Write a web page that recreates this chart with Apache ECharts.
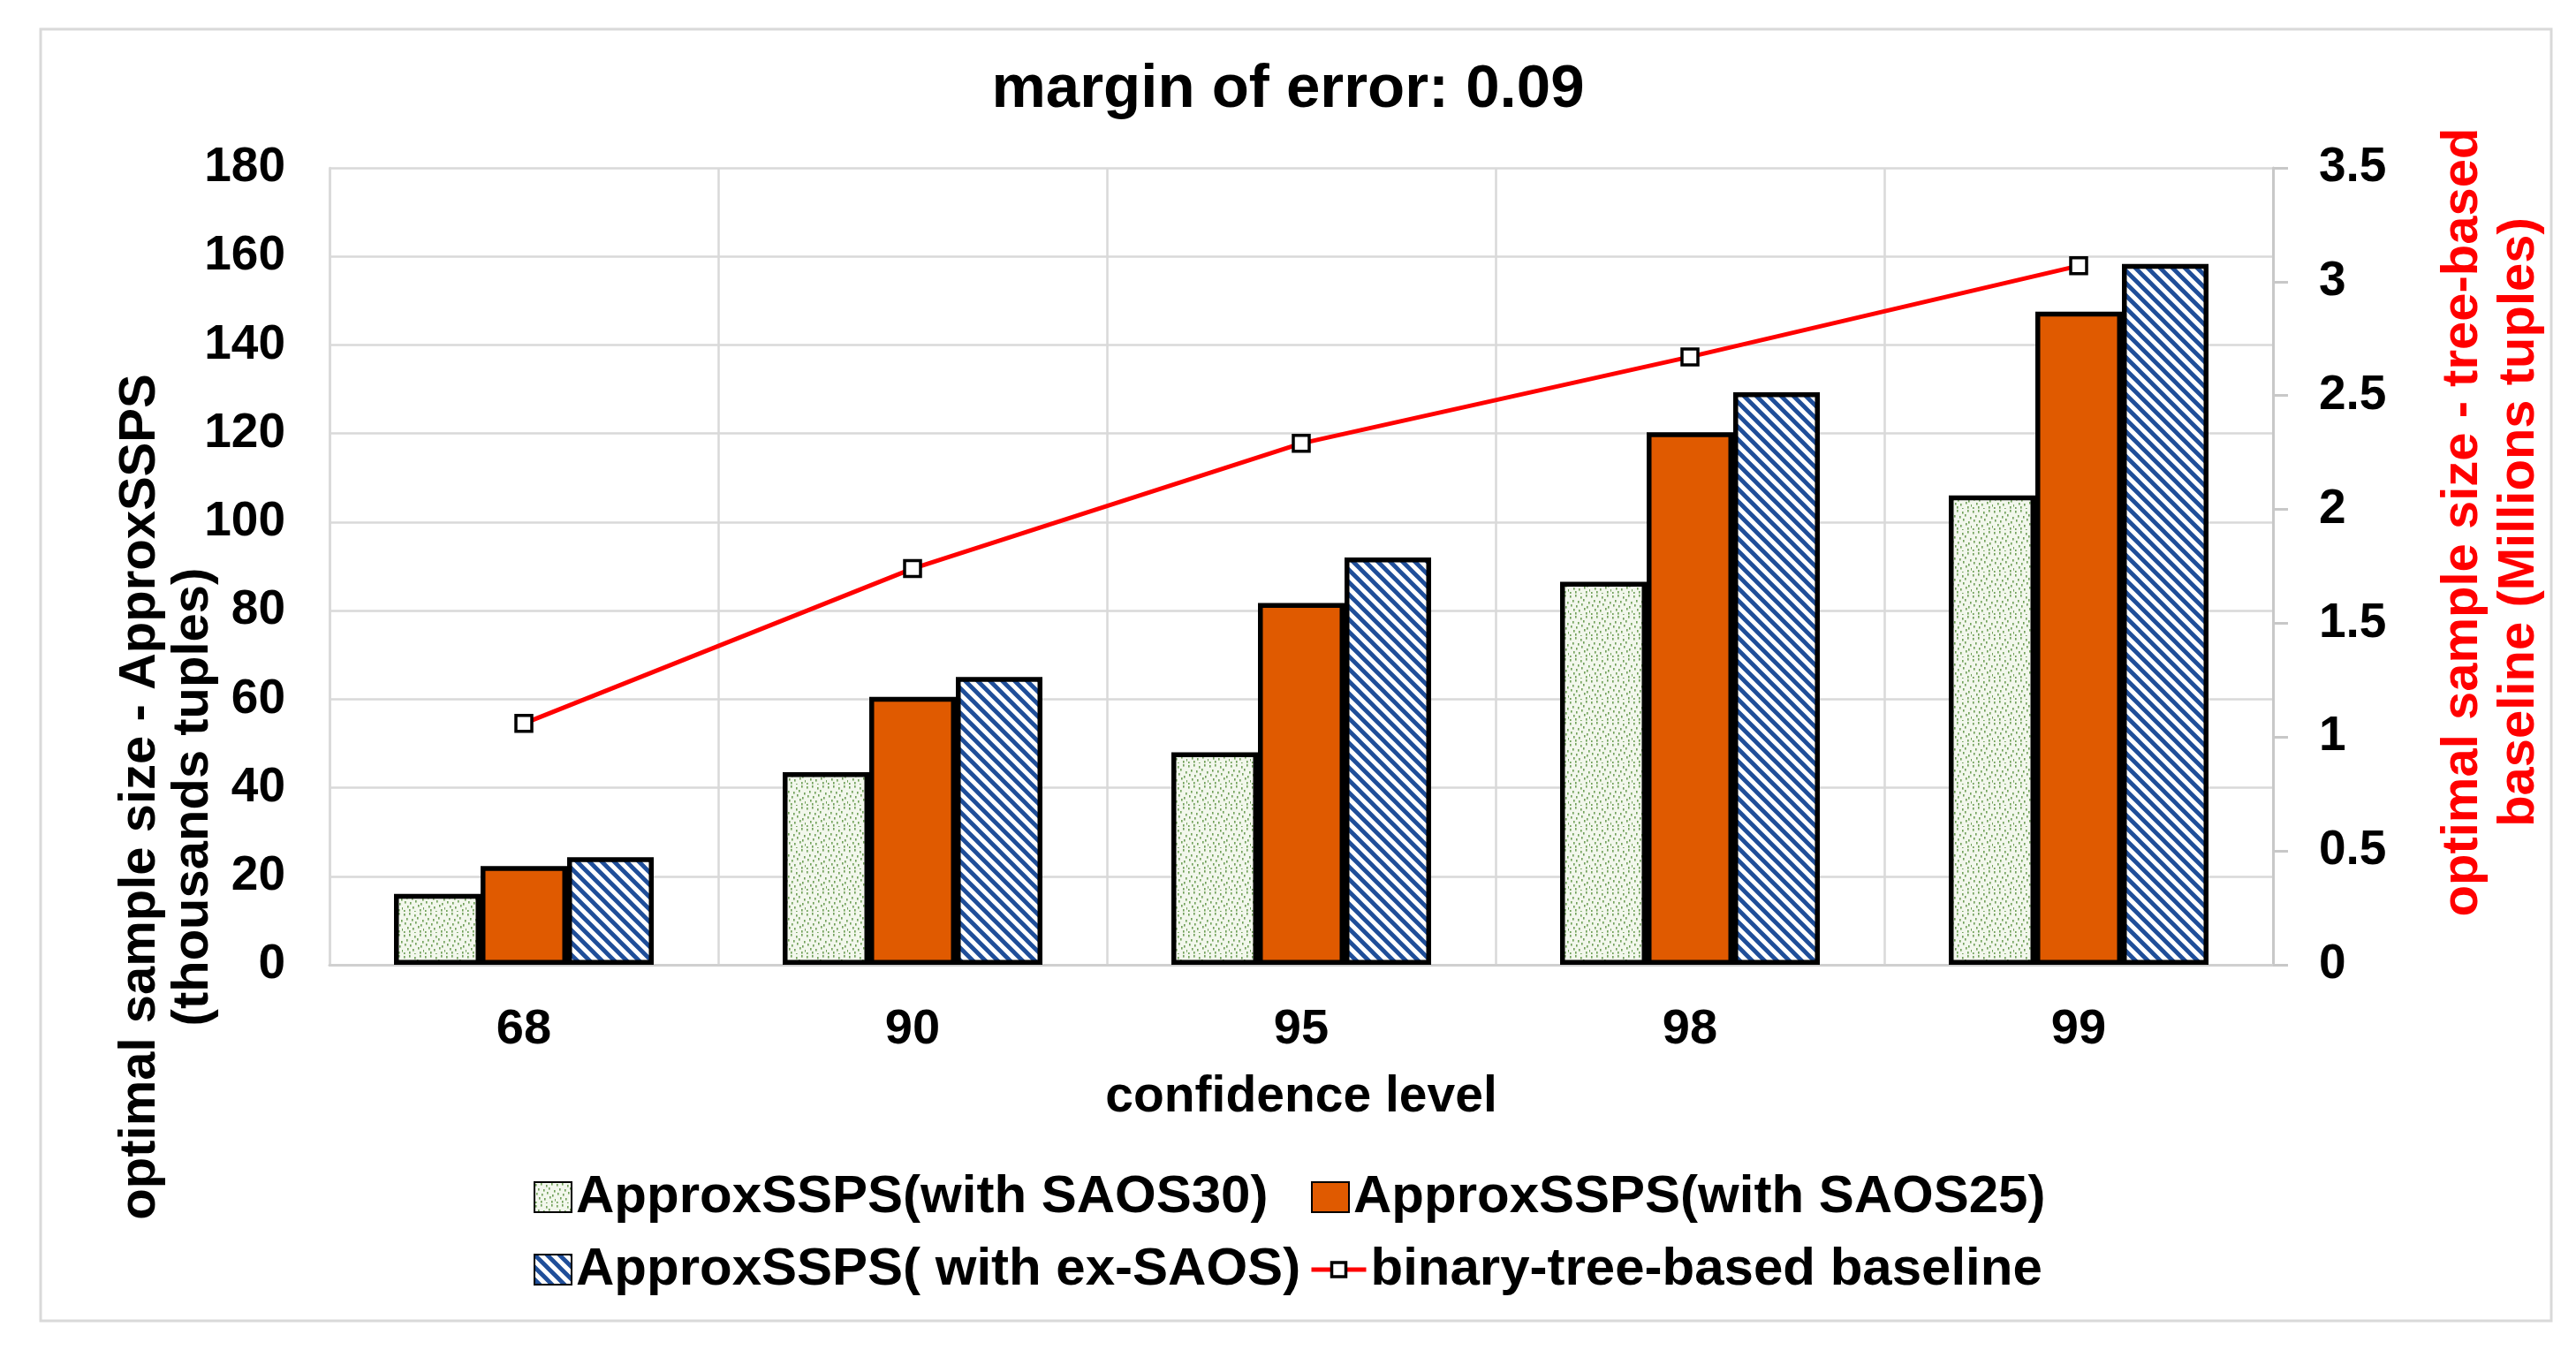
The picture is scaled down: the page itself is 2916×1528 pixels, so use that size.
<!DOCTYPE html>
<html>
<head>
<meta charset="utf-8">
<script src="https://cdn.jsdelivr.net/npm/echarts@6/dist/echarts.min.js"></script>
<style>
html,body{margin:0;padding:0;background:#fff;}
#chart{width:2916px;height:1528px;}
</style>
</head>
<body>
<div id="chart"></div>
<script>
const categories = ['68', '90', '95', '98', '99'];
const saos30 = [16, 43.5, 48, 86.5, 106];
const saos25 = [22.3, 60.5, 81.7, 120.3, 147.5];
const exSaos = [24.3, 65, 92, 129.3, 158.3];
const baseline = [1.06, 1.74, 2.29, 2.67, 3.07];
const leftTicks = {min: 0, max: 180, interval: 20};
const rightTicks = {min: 0, max: 3.5, interval: 0.5};
const names = ['ApproxSSPS(with SAOS30)', 'ApproxSSPS(with SAOS25)', 'ApproxSSPS( with ex-SAOS)', 'binary-tree-based baseline'];

const FONT = '"Liberation Sans", Arial, sans-serif';

function greenPattern() {
  const c = document.createElement('canvas');
  c.width = 24; c.height = 24;
  const g = c.getContext('2d');
  g.fillStyle = '#f2f7ec';
  g.fillRect(0, 0, 24, 24);
  g.fillStyle = '#6f9f58';
  const dots = [[1,2],[7,1],[13,3],[19,1],[4,7],[10,8],[16,6],[22,9],[2,12],[8,13],[14,11],[20,14],[5,17],[11,18],[17,16],[23,19],[1,22],[7,21],[13,23],[19,21]];
  dots.forEach(function (d) { g.fillRect(d[0], d[1], 1.6, 2.6); });
  return c;
}
function bluePattern() {
  const s = 14;
  const c = document.createElement('canvas');
  c.width = s; c.height = s;
  const g = c.getContext('2d');
  g.fillStyle = '#ffffff';
  g.fillRect(0, 0, s, s);
  g.strokeStyle = '#1f4e99';
  g.lineWidth = 4.8;
  g.beginPath();
  g.moveTo(-s, -s); g.lineTo(2 * s, 2 * s);
  g.moveTo(-s, 0); g.lineTo(s, 2 * s);
  g.moveTo(0, -s); g.lineTo(2 * s, s);
  g.stroke();
  return c;
}

const chart = echarts.init(document.getElementById('chart'));
const barBase = {type: 'bar', barWidth: 98, barGap: '0%', yAxisIndex: 0};
const legendText = {fontFamily: FONT, fontWeight: 'bold', fontSize: 60, color: '#000'};
const option = {
  animation: false,
  backgroundColor: '#ffffff',
  title: {
    text: 'margin of error: 0.09',
    left: 'center', top: 67, padding: 0,
    textStyle: {fontFamily: FONT, fontWeight: 'bold', fontSize: 69, color: '#000'}
  },
  grid: {left: 373, right: 343, top: 190, bottom: 436, containLabel: false},
  legend: [
    {data: [names[0]], icon: 'rect', left: 604, top: 1325, padding: 0, itemWidth: 42, itemHeight: 34, textStyle: legendText},
    {data: [names[1]], icon: 'rect', left: 1484, top: 1325, padding: 0, itemWidth: 42, itemHeight: 34, textStyle: legendText},
    {data: [names[2]], icon: 'rect', left: 604, top: 1407, padding: 0, itemWidth: 42, itemHeight: 34, textStyle: legendText},
    {data: [names[3]], left: 1482, top: 1407, padding: 0, itemWidth: 62, itemHeight: 20, textStyle: legendText,
     lineStyle: {width: 5, color: '#ff0000'}, itemStyle: {borderWidth: 3.5, borderColor: '#000', color: '#fff'}}
  ],
  xAxis: {
    type: 'category', data: categories,
    name: 'confidence level', nameLocation: 'middle', nameGap: 122,
    nameTextStyle: {fontFamily: FONT, fontWeight: 'bold', fontSize: 57, color: '#000'},
    axisLine: {show: true, lineStyle: {color: '#d0d0d0', width: 3}},
    axisTick: {show: false},
    axisLabel: {fontFamily: FONT, fontWeight: 'bold', fontSize: 56, color: '#000', margin: 46},
    splitLine: {show: true, lineStyle: {color: '#d9d9d9', width: 2.5}}
  },
  yAxis: [
    {
      type: 'value', min: leftTicks.min, max: leftTicks.max, interval: leftTicks.interval,
      axisLine: {show: true, lineStyle: {color: '#d9d9d9', width: 2.5}},
      axisTick: {show: false},
      axisLabel: {fontFamily: FONT, fontWeight: 'bold', fontSize: 55, color: '#000', margin: 50},
      splitLine: {show: true, lineStyle: {color: '#d9d9d9', width: 2.5}}
    },
    {
      type: 'value', position: 'right', min: rightTicks.min, max: rightTicks.max, interval: rightTicks.interval,
      axisLine: {show: true, lineStyle: {color: '#c8c8c8', width: 3}},
      axisTick: {show: true, inside: false, length: 17, lineStyle: {color: '#c8c8c8', width: 3}},
      axisLabel: {fontFamily: FONT, fontWeight: 'bold', fontSize: 55, color: '#000', margin: 52},
      splitLine: {show: false}
    }
  ],
  series: [
    Object.assign({}, barBase, {
      name: names[0], data: saos30,
      itemStyle: {color: {image: greenPattern(), repeat: 'repeat'}, borderColor: '#000', borderWidth: 5.5}
    }),
    Object.assign({}, barBase, {
      name: names[1], data: saos25,
      itemStyle: {color: '#e05a00', borderColor: '#000', borderWidth: 5.5}
    }),
    Object.assign({}, barBase, {
      name: names[2], data: exSaos,
      itemStyle: {color: {image: bluePattern(), repeat: 'repeat'}, borderColor: '#000', borderWidth: 5.5}
    }),
    {
      name: names[3], type: 'line', yAxisIndex: 1, data: baseline, z: 5,
      symbol: 'rect', symbolSize: 18,
      lineStyle: {color: '#ff0000', width: 5},
      itemStyle: {color: '#ffffff', borderColor: '#000', borderWidth: 3.5}
    }
  ],
  graphic: [
    {type: 'rect', shape: {x: 46, y: 33, width: 2842, height: 1462}, style: {fill: 'none', stroke: '#d9d9d9', lineWidth: 3}, silent: true},
    {type: 'text', x: 189, y: 902, rotation: Math.PI / 2,
     style: {text: 'optimal sample size - ApproxSSPS\n(thousands tuples)', font: 'bold 58px ' + FONT, fill: '#000', align: 'center', verticalAlign: 'middle', lineHeight: 60}},
    {type: 'text', x: 2820, y: 591, rotation: Math.PI / 2,
     style: {text: 'optimal sample size - tree-based\nbaseline (Millions tuples)', font: 'bold 58px ' + FONT, fill: '#ff0000', align: 'center', verticalAlign: 'middle', lineHeight: 64}}
  ]
};
chart.setOption(option);
</script>
</body>
</html>
